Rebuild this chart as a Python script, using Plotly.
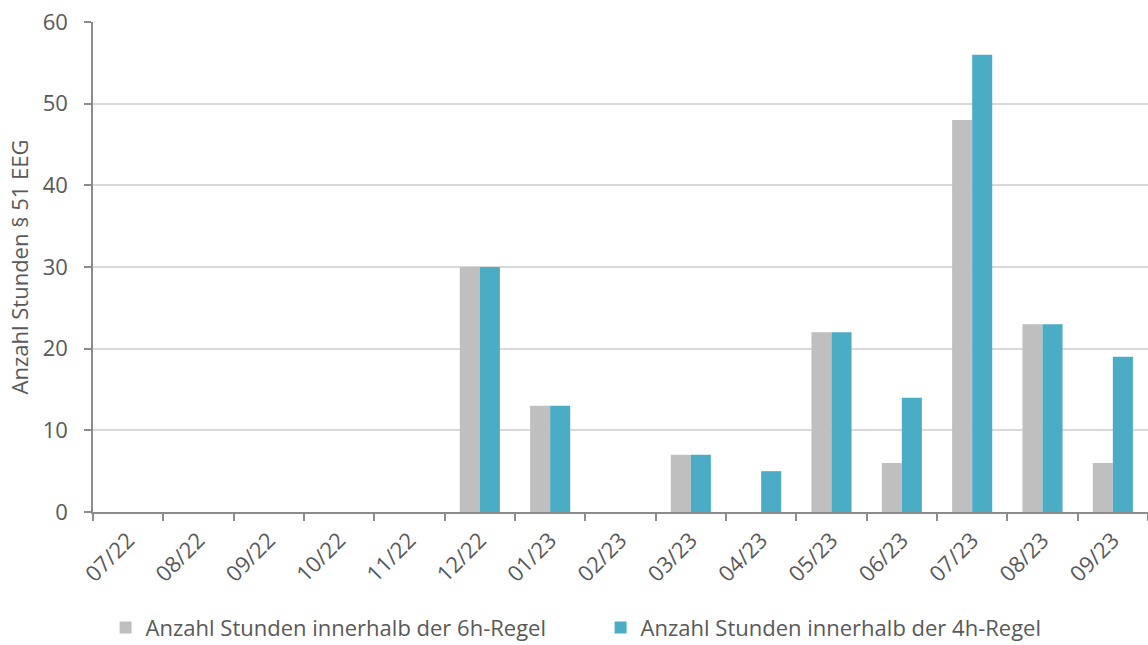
import plotly.graph_objects as go

months = ["07/22", "08/22", "09/22", "10/22", "11/22", "12/22", "01/23", "02/23",
          "03/23", "04/23", "05/23", "06/23", "07/23", "08/23", "09/23"]
stunden_6h = [0, 0, 0, 0, 0, 30, 13, 0, 7, 0, 22, 6, 48, 23, 6]
stunden_4h = [0, 0, 0, 0, 0, 30, 13, 0, 7, 5, 22, 14, 56, 23, 19]

name_6h = "Anzahl Stunden innerhalb der 6h-Regel"
name_4h = "Anzahl Stunden innerhalb der 4h-Regel"

text_color = "#595959"
axis_color = "#8c8c8c"
font_family = "Open Sans, Noto Sans, sans-serif"

fig = go.Figure()
fig.add_trace(go.Bar(x=months, y=stunden_6h, name=name_6h,
                     marker=dict(color="#bfbfbf", line=dict(width=0))))
fig.add_trace(go.Bar(x=months, y=stunden_4h, name=name_4h,
                     marker=dict(color="#4bacc6", line=dict(width=0))))

fig.update_layout(
    width=1148, height=645,
    margin=dict(l=93, r=0, t=22, b=133, autoexpand=False),
    paper_bgcolor="white", plot_bgcolor="white",
    barmode="group", bargap=0.43, bargroupgap=0,
    font=dict(family=font_family, color=text_color, size=22),
    showlegend=True,
    legend=dict(orientation="h", xref="container", yref="container",
                x=0.092, xanchor="left", y=0.027, yanchor="middle",
                font=dict(size=22, color=text_color),
                entrywidth=450, entrywidthmode="pixels",
                itemclick=False, traceorder="normal"),
)

fig.update_xaxes(
    type="category", tickangle=-45, tickson="boundaries",
    ticks="outside", ticklen=7, tickcolor=axis_color, tickwidth=1.5,
    showline=True, linecolor=axis_color, linewidth=1.5,
    showgrid=False, tickfont=dict(size=22, color=text_color),
    ticklabelstandoff=5,
)
fig.update_yaxes(
    range=[0, 60], dtick=10,
    ticks="outside", ticklen=7, tickcolor=axis_color, tickwidth=1.5,
    showline=True, linecolor=axis_color, linewidth=1.5,
    showgrid=True, gridcolor="#d9d9d9", gridwidth=1.5,
    zeroline=False,
    tickfont=dict(size=22, color=text_color),
    ticklabelstandoff=12,
    title=dict(text="Anzahl Stunden § 51 EEG", font=dict(size=22, color=text_color),
               standoff=8),
)

fig.write_html("out.html")
